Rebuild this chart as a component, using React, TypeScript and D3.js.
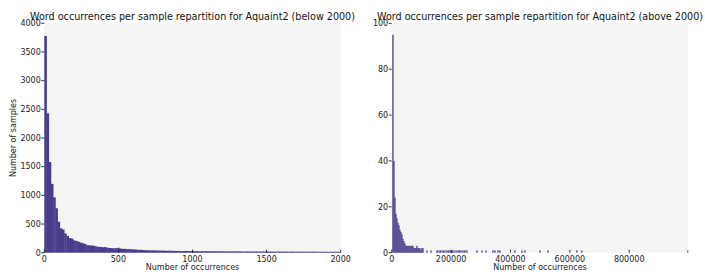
import React from "react";
import * as d3 from "d3";

// ---------- data ----------
const leftTitle = "Word occurrences per sample repartition for Aquaint2 (below 2000)";
const rightTitle = "Word occurrences per sample repartition for Aquaint2 (above 2000)";
const xLabel = "Number of occurrences";
const yLabel = "Number of samples";

// left histogram: equal-width bins over [0, 2000]
const leftCounts = [
  3780, 2430, 1580, 1200, 965, 775, 540, 425, 405, 335, 295, 255, 245, 215, 205, 190, 175, 165, 150, 130,
  128, 125, 120, 108, 102, 100, 95, 98, 88, 82, 80, 76, 80, 86, 72, 66, 68, 62, 64, 58,
  57, 55, 50, 52, 46, 44, 45, 42, 40, 41, 38, 39, 36, 37, 35, 34, 35, 32, 33, 31,
  30, 31, 29, 30, 30, 28, 27, 29, 26, 27, 25, 27, 26, 25, 24, 26, 25, 24, 23, 25,
  24, 23, 22, 24, 23, 22, 21, 23, 22, 21, 20, 22, 21, 20, 21, 22, 20, 19, 21, 20,
  19, 21, 20, 19, 18, 20, 19, 18, 19, 18, 17, 19, 18, 17, 18, 17, 16, 18, 17, 16,
  17, 18, 16, 17, 16, 15, 17, 16, 15, 16, 15, 17, 16, 15,
];
const leftXTicks = [0, 500, 1000, 1500, 2000];
const leftYTicks = [0, 500, 1000, 1500, 2000, 2500, 3000, 3500, 4000];

// right histogram: dense leading bins + isolated words with high counts
const rightStart = 2000;
const rightBinWidth = 3368;
const rightDense = [95, 40, 24, 17, 15, 13, 12, 10, 9, 8, 6, 5, 4, 3, 3, 3, 3, 3, 3, 3, 3, 2, 2, 2, 3, 2, 2, 2, 1, 2, 1];
const rightSparse = [
  106000, 118000, 130000, 152000, 156000, 163000, 166000, 172000, 176000, 181000, 188000, 191000, 198000,
  202000, 205000, 212000, 218000, 225000, 229000, 236000, 243000, 246000, 253000, 288000, 303000, 318000,
  342000, 348000, 356000, 365000, 415000, 438000, 449000, 499000, 525000, 623000, 640000, 998000,
];
const rightXTicks = [0, 200000, 400000, 600000, 800000];
const rightYTicks = [0, 20, 40, 60, 80, 100];

// ---------- layout ----------
const W = 705;
const H = 272;
const yTop = 23.3;
const yBot = 252.7;
const font = "DejaVu Sans";
const barColor = "#483d8b";
const bg = "#f4f4f4";

type Bar = { x0: number; x1: number; n: number };

function Panel(props: {
  x0: number;
  x1: number;
  domainX: [number, number];
  domainY: [number, number];
  bars: Bar[];
  xTicks: number[];
  yTicks: number[];
  title: string;
  showYLabel: boolean;
  overlap: number;
}) {
  const { x0, x1, domainX, domainY, bars, xTicks, yTicks, title, showYLabel, overlap } = props;
  const x = d3.scaleLinear().domain(domainX).range([x0, x1]);
  const y = d3.scaleLinear().domain(domainY).range([yBot, yTop]);
  const cx = (x0 + x1) / 2;
  return (
    <g>
      <rect x={x0} y={yTop} width={x1 - x0} height={yBot - yTop} fill={bg} />
      <g>
        {bars.map((b, i) => {
          const bx = x(b.x0);
          const bw = Math.min(Math.max(x(b.x1) - x(b.x0), 0.9) + overlap, x1 - bx);
          return (
            <rect key={i} x={bx} y={y(b.n)} width={bw} height={yBot - y(b.n)} fill={barColor} />
          );
        })}
      </g>
      {yTicks.map((t) => (
        <g key={"y" + t}>
          <line x1={x0 - 3} x2={x0} y1={y(t)} y2={y(t)} stroke="#000" strokeWidth={0.8} />
          <text x={x0 - 3.5} y={y(t)} dy="0.35em" textAnchor="end" fontSize={8} fontFamily={font} fill="#222">
            {t}
          </text>
        </g>
      ))}
      {xTicks.map((t) => (
        <g key={"x" + t}>
          <line x1={x(t)} x2={x(t)} y1={yBot - 3} y2={yBot} stroke="#000" strokeWidth={0.8} />
          <text x={x(t)} y={yBot + 9.5} textAnchor="middle" fontSize={8} fontFamily={font} fill="#222">
            {t}
          </text>
        </g>
      ))}
      <text x={cx} y={270} textAnchor="middle" fontSize={8} fontFamily={font} fill="#222">
        {xLabel}
      </text>
      {showYLabel && (
        <text
          transform={`translate(${16},${(yTop + yBot) / 2}) rotate(-90)`}
          textAnchor="middle"
          fontSize={8}
          fontFamily={font}
          fill="#222"
        >
          {yLabel}
        </text>
      )}
      <text x={cx} y={20} textAnchor="middle" fontSize={9.6} fontFamily={font} fill="#111">
        {title}
      </text>
    </g>
  );
}

export default function App() {
  const lw = 2000 / leftCounts.length;
  const leftBars: Bar[] = leftCounts.map((n, i) => ({ x0: i * lw, x1: (i + 1) * lw, n }));

  const rightMap = new Map<number, number>();
  rightDense.forEach((n, i) => rightMap.set(i, n));
  rightSparse.forEach((v) => {
    const k = Math.floor((v - rightStart) / rightBinWidth);
    rightMap.set(k, (rightMap.get(k) || 0) + 1);
  });
  const rightBars: Bar[] = Array.from(rightMap.entries()).map(([k, n]) => ({
    x0: rightStart + k * rightBinWidth,
    x1: rightStart + (k + 1) * rightBinWidth,
    n,
  }));

  return (
    <svg width={W} height={H} style={{ position: "absolute", left: 0, top: 0 }}>
      <rect width={W} height={H} fill="#fff" />
      <Panel
        x0={44.3}
        x1={340.7}
        domainX={[0, 2000]}
        domainY={[0, 4000]}
        bars={leftBars}
        xTicks={leftXTicks}
        yTicks={leftYTicks}
        title={leftTitle}
        showYLabel={true}
        overlap={0.35}
      />
      <Panel
        x0={391.7}
        x1={688.3}
        domainX={[0, 999000]}
        domainY={[0, 100]}
        bars={rightBars}
        xTicks={rightXTicks}
        yTicks={rightYTicks}
        title={rightTitle}
        showYLabel={false}
        overlap={0.3}
      />
    </svg>
  );
}
